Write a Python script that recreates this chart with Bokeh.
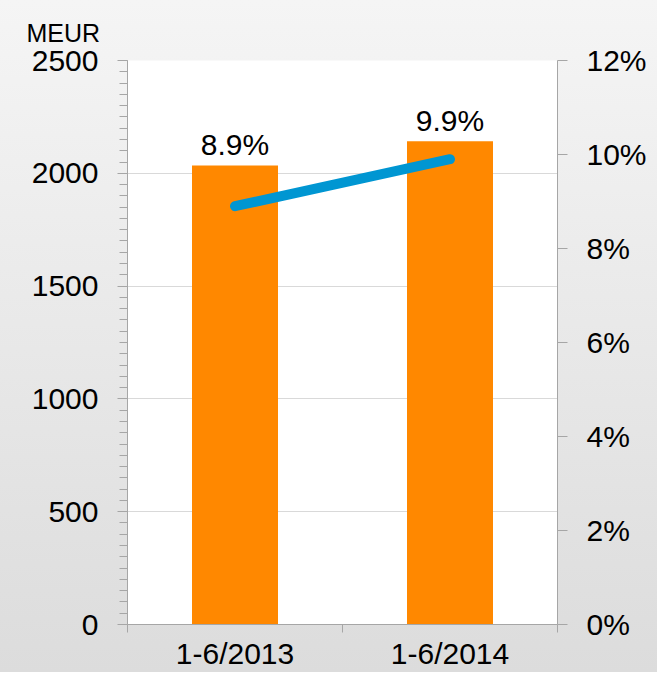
from bokeh.plotting import figure
from bokeh.models import (Range1d, LinearAxis, FixedTicker, Grid,
                          PrintfTickFormatter, ColumnDataSource, LabelSet)
from bokeh.core.properties import value
from bokeh.embed import file_html
from bokeh.resources import INLINE

categories = ["1-6/2013", "1-6/2014"]
meur = [2035, 2142]
margin_pct = [8.9, 9.9]
pct_labels = ["8.9%", "9.9%"]
left_ticks = [0, 500, 1000, 1500, 2000, 2500]
right_ticks = [0, 2, 4, 6, 8, 10, 12]

FONT = "Liberation Sans"
AXIS_GRAY = "#a6a6a6"

n = len(categories)
centres = [i + 0.5 for i in range(n)]

p = figure(width=657, height=672, output_backend="svg", toolbar_location=None,
           x_range=Range1d(0, n), y_range=Range1d(0, 2500),
           x_axis_location=None, y_axis_location=None,
           min_border_left=127, min_border_right=100, min_border_top=60, min_border_bottom=47)
p.border_fill_color = None
p.background_fill_color = "white"
p.outline_line_color = None
p.styles = {"background-image": "linear-gradient(#f5f5f5, #dcdcdc)"}
p.grid.visible = False

p.title.text = "MEUR"
p.title.text_font = FONT
p.title.text_font_size = "25px"
p.title.text_font_style = "normal"
p.title.text_color = "black"
p.title.align = "left"
p.title.vertical_align = "top"
p.title.offset = -101
p.title.standoff = 24

p.extra_y_ranges = {"pct": Range1d(0, 12)}

src = ColumnDataSource(dict(x=centres, cat=categories, meur=meur, pct=margin_pct, lab=pct_labels))

p.add_layout(Grid(dimension=1, ticker=FixedTicker(ticks=left_ticks), grid_line_color="#d9d9d9"))

p.vbar(x="x", top="meur", width=0.4, source=src, color="#ff8800", line_color=None)
p.line(x="x", y="pct", source=src, y_range_name="pct", line_width=10,
       line_color="#0096d2", line_cap="round")

labels = LabelSet(x="x", y="meur", text="lab", source=src, text_align="center",
                  text_baseline="alphabetic", y_offset=10, text_font=value(FONT),
                  text_font_size="30px", text_color="black")
p.add_layout(labels)

# left axis
la = LinearAxis(ticker=FixedTicker(ticks=left_ticks, minor_ticks=list(range(0, 2501, 50))))
la.axis_line_color = AXIS_GRAY
la.major_tick_line_color = AXIS_GRAY
la.minor_tick_line_color = AXIS_GRAY
la.major_tick_out = 10
la.major_tick_in = 0
la.minor_tick_out = 8
la.minor_tick_in = 0
la.major_label_standoff = 19
la.major_label_text_font = FONT
la.major_label_text_font_size = "30px"
la.major_label_text_color = "black"
p.add_layout(la, "left")

# right axis
ra = LinearAxis(y_range_name="pct", ticker=FixedTicker(ticks=right_ticks, minor_ticks=[]),
                formatter=PrintfTickFormatter(format="%d%%"))
ra.axis_line_color = AXIS_GRAY
ra.major_tick_line_color = AXIS_GRAY
ra.major_tick_out = 10
ra.major_tick_in = 0
ra.major_label_standoff = 19
ra.major_label_text_font = FONT
ra.major_label_text_font_size = "30px"
ra.major_label_text_color = "black"
p.add_layout(ra, "right")

# bottom axis: boundary ticks, labels at category centres
ba = LinearAxis(ticker=FixedTicker(ticks=centres, minor_ticks=list(range(n + 1))),
                major_label_overrides={c: cat for c, cat in zip(centres, categories)})
ba.axis_line_color = AXIS_GRAY
ba.major_tick_line_color = None
ba.major_tick_out = 0
ba.major_tick_in = 0
ba.minor_tick_line_color = AXIS_GRAY
ba.minor_tick_out = 8
ba.minor_tick_in = 0
ba.major_label_standoff = 4
ba.major_label_text_font = FONT
ba.major_label_text_font_size = "30px"
ba.major_label_text_color = "black"
p.add_layout(ba, "below")

open("out.html", "w").write(file_html(p, INLINE))
